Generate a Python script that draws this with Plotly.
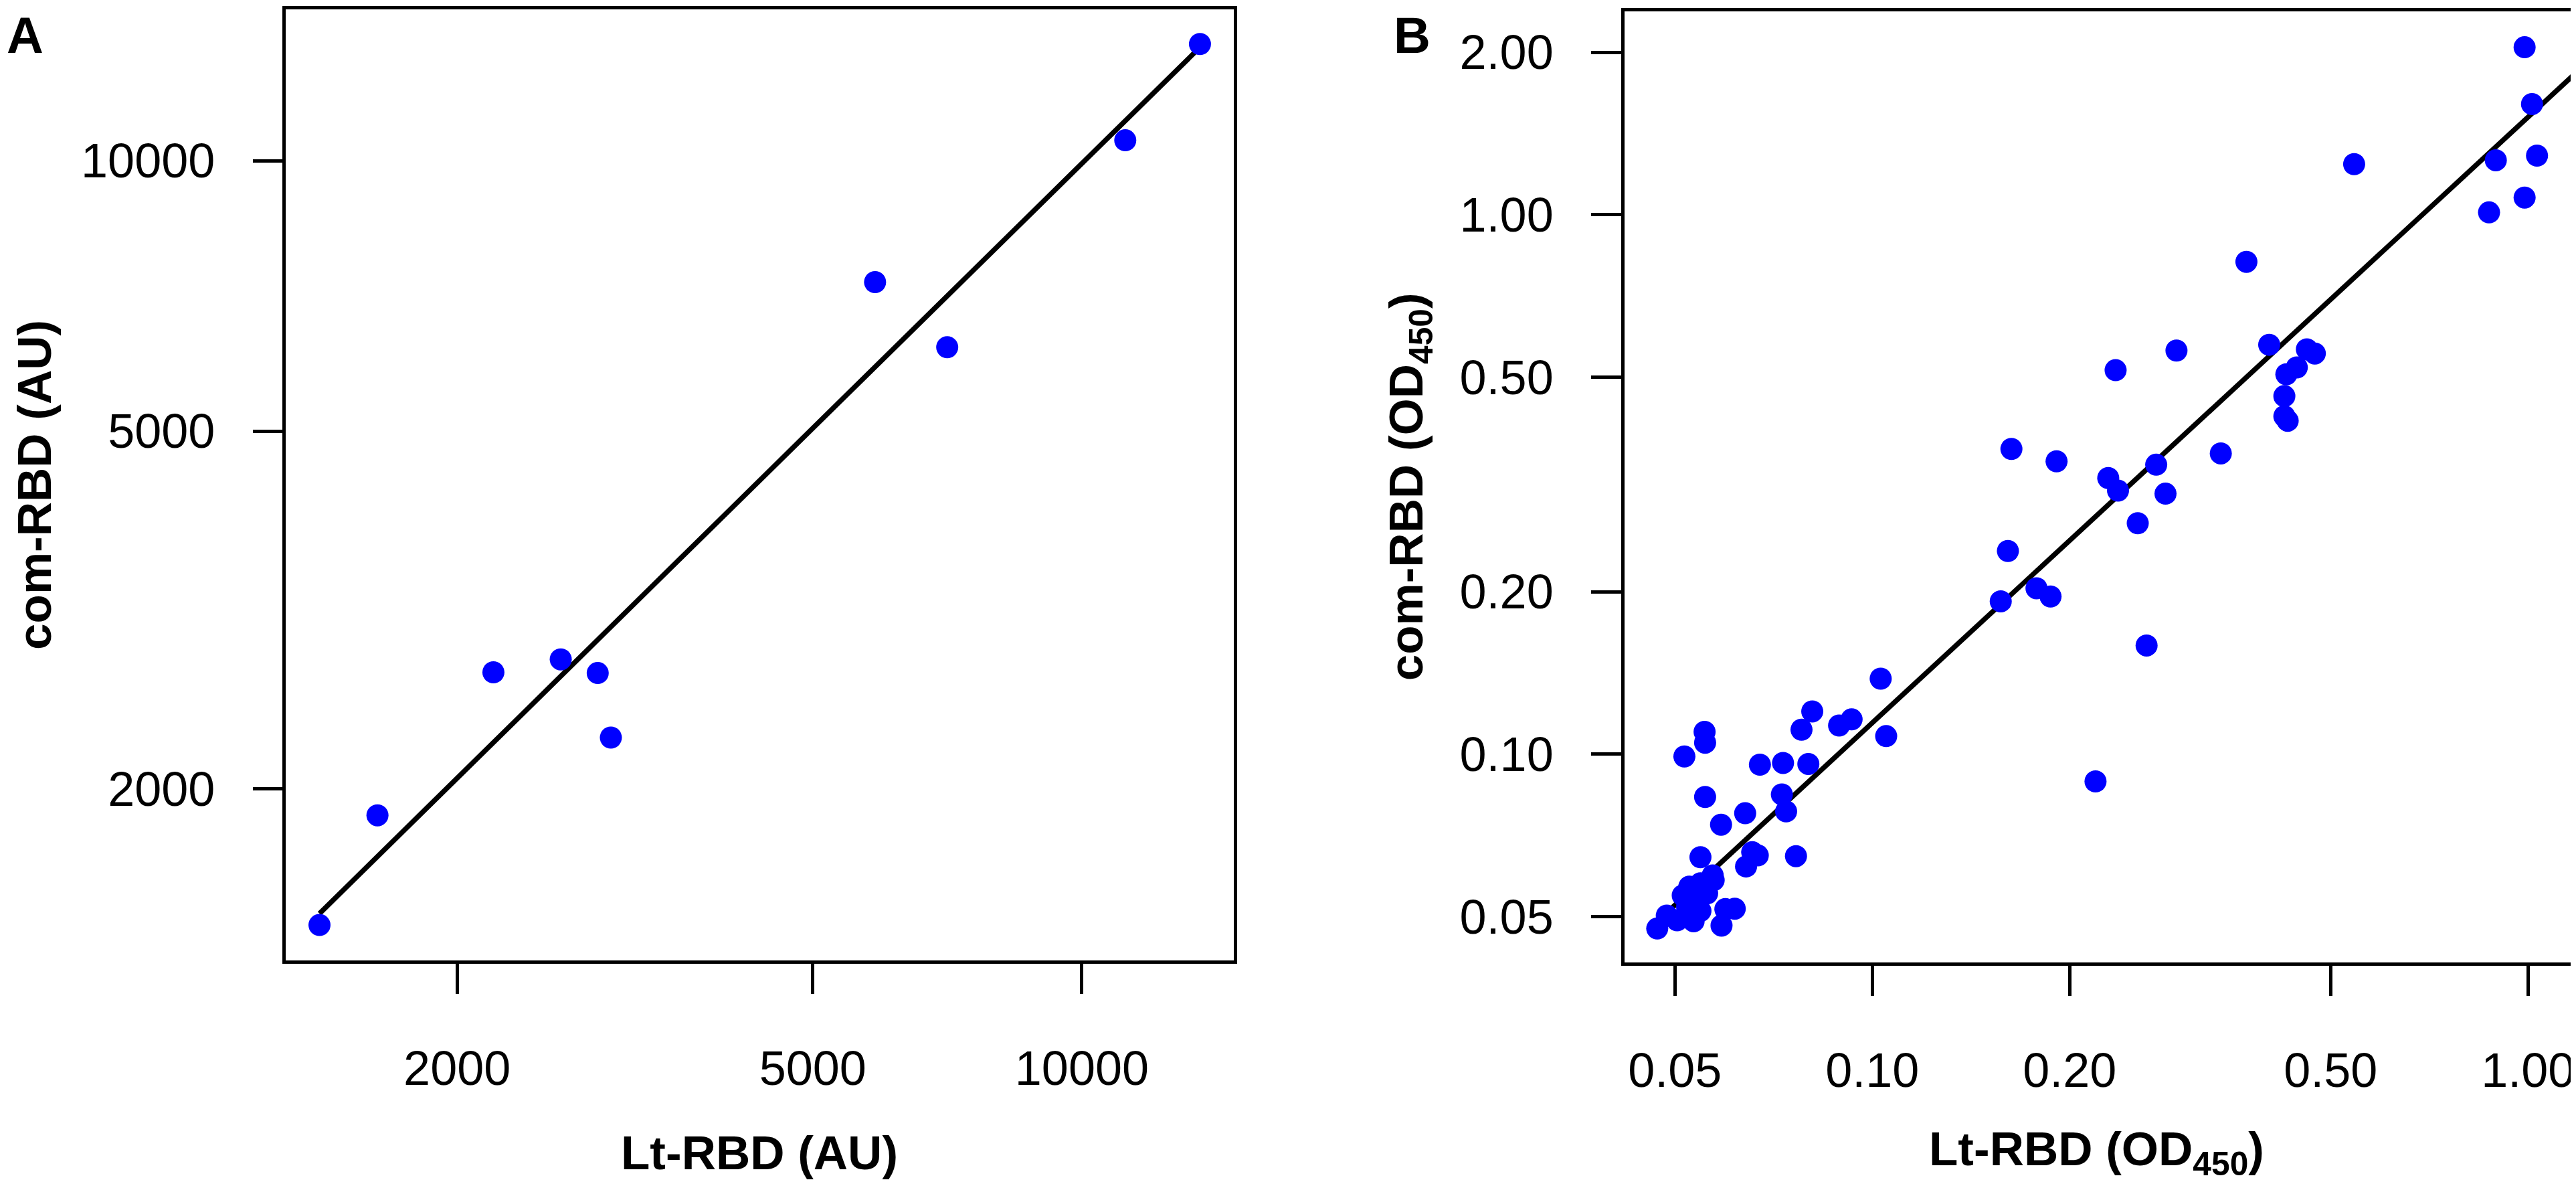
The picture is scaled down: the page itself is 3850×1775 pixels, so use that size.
import numpy as np
import plotly.graph_objects as go

# ---- Panel A: arbitrary units ----
lt_rbd_au = [1403, 1629, 2196, 2612, 2873, 2972, 5870, 7069, 11183, 13556]
com_rbd_au = [1410, 1868, 2695, 2786, 2690, 2280, 7328, 6201, 10541, 13490]

# ---- Panel B: OD450 ----
lt_rbd_od = [0.988, 1.014, 0.893, 1.032, 0.988, 0.872, 0.543, 0.372,
             0.403, 0.460, 0.473, 0.444, 0.428, 0.425, 0.425, 0.430,
             0.291, 0.235, 0.163, 0.191, 0.229, 0.237, 0.271, 0.340,
             0.280, 0.254, 0.161, 0.157, 0.178, 0.187, 0.262, 0.219,
             0.103, 0.081, 0.078, 0.089, 0.093, 0.105, 0.0555, 0.0556,
             0.0517, 0.0674, 0.0731, 0.0799, 0.0556, 0.0728, 0.0739, 0.0640,
             0.0588, 0.0547, 0.0656, 0.0669, 0.0765, 0.0642, 0.0571, 0.0597,
             0.0617, 0.0589, 0.0470, 0.0486, 0.0504, 0.0534, 0.0547, 0.0514,
             0.0526, 0.0547, 0.0560, 0.0522, 0.0538, 0.0573]
com_rbd_od = [2.044, 1.604, 1.262, 1.287, 1.076, 1.010, 1.241, 0.818,
              0.574, 0.563, 0.553, 0.521, 0.506, 0.461, 0.423, 0.415,
              0.560, 0.515, 0.368, 0.349, 0.325, 0.308, 0.344, 0.361,
              0.304, 0.268, 0.238, 0.192, 0.203, 0.196, 0.159, 0.089,
              0.138, 0.120, 0.111, 0.113, 0.116, 0.108, 0.110, 0.105,
              0.099, 0.0956, 0.0963, 0.0959, 0.0833, 0.0842, 0.0783, 0.0777,
              0.0740, 0.0644, 0.0658, 0.0649, 0.0647, 0.0619, 0.0596, 0.0516,
              0.0517, 0.0481, 0.0475, 0.0502, 0.0492, 0.0490, 0.0512, 0.0547,
              0.0568, 0.0576, 0.0552, 0.0521, 0.0531, 0.0584]

# fitted lines as drawn in the figure (log10 y = a + b * log10 x)
fit_a = dict(a=0.081, b=0.979)
fit_b = dict(a=0.181, b=1.123)

ticks_au = [2000, 5000, 10000]
ticks_od_x = [0.05, 0.10, 0.20, 0.50, 1.00]
ticks_od_y = [0.05, 0.10, 0.20, 0.50, 1.00, 2.00]

# log10 axis ranges (R style, 4% padding)
range_a_x = [3.1096, 4.1697]
range_a_y = [3.1098, 4.1686]
range_b_x = [-1.3779, 0.066]
range_b_y = [-1.3862, 0.3770]

BLUE = "#0000FF"
FONT = "Liberation Sans, Arial, sans-serif"


def fit_line(fit, x0, x1):
    xs = np.array([x0, x1])
    return xs, 10 ** (fit["a"] + fit["b"] * np.log10(xs))


fit_ax, fit_ay = fit_line(fit_a, min(lt_rbd_au), max(lt_rbd_au))
fit_bx, fit_by = fit_line(fit_b, min(lt_rbd_od), 10 ** range_b_x[1] * 1.2)

fig = go.Figure()
fig.add_trace(go.Scatter(x=fit_ax, y=fit_ay, mode="lines",
                         line=dict(color="black", width=7.5), xaxis="x", yaxis="y"))
fig.add_trace(go.Scatter(x=lt_rbd_au, y=com_rbd_au, mode="markers",
                         marker=dict(color=BLUE, size=33, line=dict(width=0)),
                         xaxis="x", yaxis="y"))
fig.add_trace(go.Scatter(x=fit_bx, y=fit_by, mode="lines",
                         line=dict(color="black", width=7.5), xaxis="x2", yaxis="y2"))
fig.add_trace(go.Scatter(x=lt_rbd_od, y=com_rbd_od, mode="markers",
                         marker=dict(color=BLUE, size=33, line=dict(width=0)),
                         xaxis="x2", yaxis="y2"))

axis_style = dict(type="log", showgrid=False, zeroline=False, showline=True,
                  mirror=True, linecolor="black", linewidth=4.5,
                  ticks="outside", ticklen=45, tickwidth=4.5, tickcolor="black",
                  tickfont=dict(family=FONT, size=72, color="black"))

fig.update_layout(
    width=3850, height=1775,
    margin=dict(l=0, r=0, t=0, b=0),
    paper_bgcolor="white", plot_bgcolor="white",
    showlegend=False,
    xaxis=dict(axis_style, domain=[420 / 3850, 1838 / 3850], range=range_a_x,
               anchor="y", tickvals=ticks_au, ticktext=[str(v) for v in ticks_au],
               ticklabelstandoff=50),
    yaxis=dict(axis_style, domain=[1 - 1427 / 1775, 1 - 6 / 1775], range=range_a_y,
               anchor="x", tickvals=ticks_au, ticktext=[str(v) for v in ticks_au],
               ticklabelstandoff=42),
    xaxis2=dict(axis_style, domain=[2423 / 3850, 3840 / 3850], range=range_b_x,
                anchor="y2", tickvals=ticks_od_x,
                ticktext=[f"{v:.2f}" for v in ticks_od_x], ticklabelstandoff=50),
    yaxis2=dict(axis_style, domain=[1 - 1430 / 1775, 1 - 9 / 1775], range=range_b_y,
                anchor="x2", tickvals=ticks_od_y,
                ticktext=[f"{v:.2f}" for v in ticks_od_y], ticklabelstandoff=42),
)

title_font = dict(family=FONT, size=71, color="black")
letter_font = dict(family=FONT, size=76, color="black")
annos = [
    dict(text="<b>A</b>", x=0.0, y=1.0, xanchor="left", yanchor="top", font=letter_font),
    dict(text="<b>B</b>", x=2076 / 3850, y=1.0, xanchor="left", yanchor="top", font=letter_font),
    dict(text="<b>com-RBD (AU)</b>", x=43 / 3850, y=1 - 716 / 1775, textangle=-90,
         xanchor="center", yanchor="middle", font=title_font),
    dict(text="<b>Lt-RBD (AU)</b>", x=1128 / 3850, y=1 - 1714 / 1775,
         xanchor="center", yanchor="middle", font=title_font),
    dict(text="<b>com-RBD (OD<sub>450</sub>)</b>", x=2102 / 3850, y=1 - 719 / 1775,
         textangle=-90, xanchor="center", yanchor="middle", font=title_font),
    dict(text="<b>Lt-RBD (OD<sub>450</sub>)</b>", x=3130 / 3850, y=1 - 1714 / 1775,
         xanchor="center", yanchor="middle", font=title_font),
]
for a in annos:
    fig.add_annotation(xref="paper", yref="paper", showarrow=False, **a)

fig.write_html("out.html")
